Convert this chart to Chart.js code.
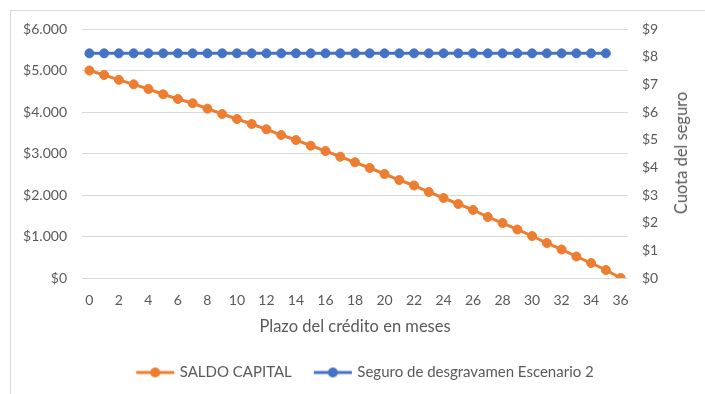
<!DOCTYPE html>
<html>
<head>
<meta charset="utf-8">
<script src="https://cdn.jsdelivr.net/npm/chart.js@4.4.1/dist/chart.umd.min.js"></script>
<style>
  html, body { margin: 0; padding: 0; background: #fff; overflow: hidden; }
  #wrap { position: relative; width: 705px; height: 394px; }
  #frame { position: absolute; left: 10px; top: 10px; width: 720px; height: 420px;
           border-left: 1px solid #d9d9d9; border-top: 1px solid #d9d9d9; }
  canvas { position: absolute; left: 0; top: 0; }
  #tituloDerecho { position: absolute; left: 681px; top: 153px; white-space: nowrap;
                   transform: translate(-50%, -50%) rotate(-90deg);
                   font-family: Lato, "Open Sans", sans-serif; font-size: 16.5px; color: #595959; }
</style>
</head>
<body>
<div id="wrap">
  <div id="frame"></div>
  <canvas id="c" width="705" height="394"></canvas>
  <div id="tituloDerecho">Cuota del seguro</div>
</div>
<script>
// Meses del plazo del crédito
const meses = [0, 1, 2, 3, 4, 5, 6, 7, 8, 9, 10, 11, 12, 13, 14, 15, 16, 17, 18,
               19, 20, 21, 22, 23, 24, 25, 26, 27, 28, 29, 30, 31, 32, 33, 34, 35, 36];

// Saldo de capital al final de cada mes (eje izquierdo)
const saldoCapital = [5000, 4892, 4775, 4667, 4554, 4427, 4313, 4210, 4080, 3952,
                      3831, 3711, 3583, 3446, 3325, 3188, 3060, 2923, 2788, 2651,
                      2506, 2361, 2229, 2072, 1928, 1783, 1639, 1470, 1325, 1169,
                      1012, 843, 687, 518, 361, 193, 0];

// Cuota mensual del seguro de desgravamen, escenario 2 (eje derecho)
const seguroEscenario2 = [8.12, 8.12, 8.12, 8.12, 8.12, 8.12, 8.12, 8.12, 8.12, 8.12,
                          8.12, 8.12, 8.12, 8.12, 8.12, 8.12, 8.12, 8.12, 8.12, 8.12,
                          8.12, 8.12, 8.12, 8.12, 8.12, 8.12, 8.12, 8.12, 8.12, 8.12,
                          8.12, 8.12, 8.12, 8.12, 8.12, 8.12];

// Etiquetas de los ejes
const ticksIzquierda = [0, 1000, 2000, 3000, 4000, 5000, 6000];
const ticksDerecha = [0, 1, 2, 3, 4, 5, 6, 7, 8, 9];

const NARANJA = '#ED7D31';
const AZUL = '#4472C4';
const TEXTO = '#595959';
const GRILLA = '#d9d9d9';
const FUENTE = 'Lato, "Open Sans", sans-serif';

function formatoMiles(v) {
  return '$' + String(v).replace(/\B(?=(\d{3})+(?!\d))/g, '.');
}

// Marcador de leyenda: línea con círculo al centro
function marcador(color) {
  const cv = document.createElement('canvas');
  cv.width = 40; cv.height = 12;
  const ctx = cv.getContext('2d');
  ctx.strokeStyle = color;
  ctx.lineWidth = 3;
  ctx.beginPath(); ctx.moveTo(1, 6); ctx.lineTo(39, 6); ctx.stroke();
  ctx.fillStyle = color;
  ctx.beginPath(); ctx.arc(20, 6, 5, 0, Math.PI * 2); ctx.fill();
  return cv;
}
const marcadores = [marcador(NARANJA), marcador(AZUL)];

// Desplaza la leyenda horizontalmente para centrarla bajo el área del gráfico
const moverLeyenda = {
  id: 'moverLeyenda',
  afterLayout(chart) {
    const dx = 14;
    chart.legend.left += dx;
    chart.legend.right += dx;
  }
};

new Chart(document.getElementById('c'), {
  type: 'line',
  data: {
    labels: meses,
    datasets: [
      {
        label: 'SALDO CAPITAL',
        data: saldoCapital,
        yAxisID: 'y',
        borderColor: NARANJA,
        backgroundColor: NARANJA,
        borderWidth: 3,
        pointRadius: 4.5,
        pointBorderWidth: 1,
        pointBackgroundColor: NARANJA,
        pointBorderColor: NARANJA,
        pointStyle: 'circle',
        tension: 0
      },
      {
        label: 'Seguro de desgravamen Escenario 2',
        data: seguroEscenario2,
        yAxisID: 'y2',
        borderColor: AZUL,
        backgroundColor: AZUL,
        borderWidth: 3,
        pointRadius: 4.5,
        pointBorderWidth: 1,
        pointBackgroundColor: AZUL,
        pointBorderColor: AZUL,
        pointStyle: 'circle',
        tension: 0
      }
    ]
  },
  plugins: [moverLeyenda],
  options: {
    responsive: false,
    animation: false,
    layout: { padding: { left: 11, right: 12, top: 29, bottom: 4 } },
    plugins: {
      tooltip: { enabled: false },
      legend: {
        position: 'bottom',
        labels: {
          usePointStyle: true,
          pointStyleWidth: 34,
          padding: 24,
          color: TEXTO,
          font: { family: FUENTE, size: 15 },
          generateLabels(chart) {
            return chart.data.datasets.map((ds, i) => ({
              text: ds.label,
              fillStyle: ds.borderColor,
              strokeStyle: ds.borderColor,
              fontColor: TEXTO,
              lineWidth: 0,
              pointStyle: marcadores[i],
              hidden: false,
              datasetIndex: i
            }));
          }
        }
      }
    },
    scales: {
      x: {
        type: 'category',
        offset: true,
        grid: { display: false, drawTicks: false },
        border: { display: false },
        ticks: {
          autoSkip: false,
          maxRotation: 0,
          padding: 14,
          color: TEXTO,
          font: { family: FUENTE, size: 14 },
          callback(value, index) {
            const m = meses[index];
            return m % 2 === 0 ? String(m) : '';
          }
        },
        title: {
          display: true,
          text: 'Plazo del crédito en meses',
          color: TEXTO,
          font: { family: FUENTE, size: 16.5 }
        },
        afterFit(scale) { scale.height = 63; }
      },
      y: {
        position: 'left',
        min: ticksIzquierda[0],
        max: ticksIzquierda[ticksIzquierda.length - 1],
        afterBuildTicks(scale) { scale.ticks = ticksIzquierda.map(v => ({ value: v })); },
        grid: { color: GRILLA, lineWidth: 1, drawTicks: false },
        border: { display: false },
        ticks: {
          padding: 15,
          color: TEXTO,
          font: { family: FUENTE, size: 14 },
          callback: v => formatoMiles(v)
        },
        afterFit(scale) { scale.width = 71; }
      },
      y2: {
        position: 'right',
        min: ticksDerecha[0],
        max: ticksDerecha[ticksDerecha.length - 1],
        afterBuildTicks(scale) { scale.ticks = ticksDerecha.map(v => ({ value: v })); },
        grid: { display: false, drawTicks: false },
        border: { display: false },
        ticks: {
          padding: 14,
          color: TEXTO,
          font: { family: FUENTE, size: 14 },
          callback: v => '$' + v
        },
        afterFit(scale) { scale.width = 65; }
      }
    }
  }
});
</script>
</body>
</html>
